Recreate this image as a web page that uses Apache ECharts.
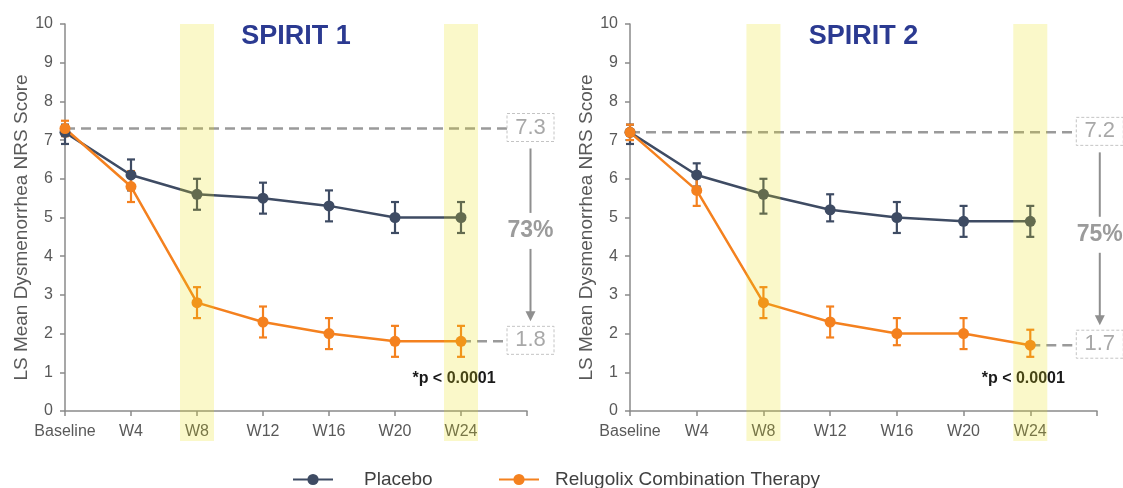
<!DOCTYPE html>
<html>
<head>
<meta charset="utf-8">
<script src="https://cdn.jsdelivr.net/npm/echarts@6/dist/echarts.min.js"></script>
<style>
  html, body { margin: 0; padding: 0; background: #fff; }
  #chart { width: 1123px; height: 488px; }
</style>
</head>
<body>
<div id="chart"></div>
<script>
// x categories (index 7 is the empty end of the axis)
var weeks = ['Baseline', 'W4', 'W8', 'W12', 'W16', 'W20', 'W24'];
var yTicks = [0, 10];

// SPIRIT 1
var placeboS1 = [7.2, 6.1, 5.6, 5.5, 5.3, 5.0, 5.0];
var placeboS1Lo = [6.9, 5.7, 5.2, 5.1, 4.9, 4.6, 4.6];
var placeboS1Hi = [7.4, 6.5, 6.0, 5.9, 5.7, 5.4, 5.4];
var reluS1 = [7.3, 5.8, 2.8, 2.3, 2.0, 1.8, 1.8];
var reluS1Lo = [7.1, 5.4, 2.4, 1.9, 1.6, 1.4, 1.4];
var reluS1Hi = [7.5, 6.2, 3.2, 2.7, 2.4, 2.2, 2.2];

// SPIRIT 2
var placeboS2 = [7.2, 6.1, 5.6, 5.2, 5.0, 4.9, 4.9];
var placeboS2Lo = [6.9, 5.8, 5.1, 4.9, 4.6, 4.5, 4.5];
var placeboS2Hi = [7.4, 6.4, 6.0, 5.6, 5.4, 5.3, 5.3];
var reluS2 = [7.2, 5.7, 2.8, 2.3, 2.0, 2.0, 1.7];
var reluS2Lo = [7.0, 5.3, 2.4, 1.9, 1.7, 1.6, 1.4];
var reluS2Hi = [7.4, 6.1, 3.2, 2.7, 2.4, 2.4, 2.1];

var panelTitles = ['SPIRIT 1', 'SPIRIT 2'];
var reductions = ['73%', '75%'];
var highlighted = [2, 6]; // W8 and W24
var seriesNames = ['Placebo', 'Relugolix Combination Therapy'];

var PLACEBO = '#3e4b63';
var RELU = '#f4811f';
var AXIS = '#8a8a8a';
var FONT = 'Liberation Sans, Arial, sans-serif';

var chart = echarts.init(document.getElementById('chart'));

function pts(arr) {
  return arr.map(function (v, i) { return [i, v]; });
}
function bars(lo, hi) {
  return lo.map(function (v, i) { return [i, v, hi[i]]; });
}

function errorSeries(idx, lo, hi, color) {
  return {
    type: 'custom',
    xAxisIndex: idx,
    yAxisIndex: idx,
    z: 3,
    silent: true,
    encode: { x: 0, y: [1, 2] },
    data: bars(lo, hi),
    renderItem: function (params, api) {
      var top = api.coord([api.value(0), api.value(2)]);
      var bot = api.coord([api.value(0), api.value(1)]);
      var c = 4;
      var st = { stroke: color, lineWidth: 2.2 };
      return {
        type: 'group',
        children: [
          { type: 'line', shape: { x1: top[0], y1: top[1], x2: bot[0], y2: bot[1] }, style: st },
          { type: 'line', shape: { x1: top[0] - c, y1: top[1], x2: top[0] + c, y2: top[1] }, style: st },
          { type: 'line', shape: { x1: bot[0] - c, y1: bot[1], x2: bot[0] + c, y2: bot[1] }, style: st }
        ]
      };
    }
  };
}

function lineSeries(idx, name, data, color) {
  return {
    type: 'line',
    name: name,
    xAxisIndex: idx,
    yAxisIndex: idx,
    data: pts(data),
    symbol: 'circle',
    symbolSize: 11,
    z: 4,
    lineStyle: { color: color, width: 2.5 },
    itemStyle: { color: color },
    emphasis: { disabled: true }
  };
}

function xAxis(idx) {
  return {
    type: 'value',
    gridIndex: idx,
    min: 0,
    max: 7,
    interval: 1,
    axisLine: { lineStyle: { color: AXIS, width: 1.5 } },
    axisTick: { length: 5, lineStyle: { color: AXIS, width: 1.5 } },
    splitLine: { show: false },
    axisLabel: {
      color: '#595959',
      fontSize: 16,
      fontFamily: FONT,
      margin: 13,
      showMaxLabel: true,
      formatter: function (v) { return weeks[v] || ''; }
    }
  };
}

function yAxis(idx) {
  return {
    type: 'value',
    gridIndex: idx,
    min: yTicks[0],
    max: yTicks[1],
    interval: 1,
    axisLine: { show: true, lineStyle: { color: AXIS, width: 1.5 } },
    axisTick: { show: true, length: 5, lineStyle: { color: AXIS, width: 1.5 } },
    splitLine: { show: false },
    axisLabel: { color: '#595959', fontSize: 16, fontFamily: FONT, margin: 12 }
  };
}

var option = {
  backgroundColor: '#fff',
  animation: false,
  grid: [
    { left: 65, right: 596, top: 24, bottom: 77 },
    { left: 630, right: 26, top: 24, bottom: 77 }
  ],
  xAxis: [xAxis(0), xAxis(1)],
  yAxis: [yAxis(0), yAxis(1)],
  legend: [
    {
      data: [seriesNames[0]],
      left: 292, top: 470, padding: 0,
      itemWidth: 40, itemHeight: 14,
      textStyle: { fontSize: 19, color: '#404040', fontFamily: FONT, padding: [0, 0, 0, 26] }
    },
    {
      data: [seriesNames[1]],
      left: 498, top: 470, padding: 0,
      itemWidth: 40, itemHeight: 14,
      textStyle: { fontSize: 19, color: '#404040', fontFamily: FONT, padding: [0, 0, 0, 11] }
    }
  ],
  series: [
    lineSeries(0, seriesNames[0], placeboS1, PLACEBO),
    lineSeries(0, seriesNames[1], reluS1, RELU),
    errorSeries(0, placeboS1Lo, placeboS1Hi, PLACEBO),
    errorSeries(0, reluS1Lo, reluS1Hi, RELU),
    lineSeries(1, seriesNames[0], placeboS2, PLACEBO),
    lineSeries(1, seriesNames[1], reluS2, RELU),
    errorSeries(1, placeboS2Lo, placeboS2Hi, PLACEBO),
    errorSeries(1, reluS2Lo, reluS2Hi, RELU)
  ]
};
chart.setOption(option);

// annotations placed from axis coordinates
var relu = [reluS1, reluS2];
var graphics = [];
function px(gi, x, y) { return chart.convertToPixel({ gridIndex: gi }, [x, y]); }

[0, 1].forEach(function (gi) {
  var base = relu[gi][0], end = relu[gi][6];
  var pBase = px(gi, 0, base);
  var pEnd = px(gi, 6, end);
  var yZero = px(gi, 0, 0)[1];
  var yTen = px(gi, 0, 10)[1];
  var xRight = px(gi, 7, 0)[0];
  var boxL = pEnd[0] + 46, boxW = 47, boxH = 28;
  var cx = boxL + boxW / 2;
  var mid = (pBase[1] + pEnd[1]) / 2;
  var dash = { stroke: '#9a9a9a', lineWidth: 2.5, lineDash: [10, 6] };
  var boxSt = { fill: '#fff', stroke: '#c4c4c4', lineWidth: 1, lineDash: [3, 2] };
  var grey = '#8f8f8f';

  // panel title
  graphics.push({
    type: 'text', x: (pBase[0] + xRight) / 2, y: 37,
    style: { text: panelTitles[gi], fill: '#2b3a91', font: 'bold 27px ' + FONT, align: 'center', verticalAlign: 'middle' }
  });
  // y axis title
  graphics.push({
    type: 'text', x: pBase[0] - 43, y: (yTen + yZero) / 2 + 10, rotation: Math.PI / 2,
    style: { text: 'LS Mean Dysmenorrhea NRS Score', fill: '#595959', font: '19px ' + FONT, align: 'center', verticalAlign: 'middle' }
  });
  // dashed reference lines
  graphics.push({ type: 'line', shape: { x1: pBase[0], y1: pBase[1], x2: boxL, y2: pBase[1] }, style: dash });
  graphics.push({ type: 'line', shape: { x1: pEnd[0], y1: pEnd[1], x2: boxL, y2: pEnd[1] }, style: dash });
  // value boxes
  [[base, pBase[1]], [end, pEnd[1]]].forEach(function (b) {
    graphics.push({ type: 'rect', shape: { x: boxL, y: b[1] - boxH / 2 - 1, width: boxW, height: boxH }, style: boxSt });
    graphics.push({
      type: 'text', x: cx, y: b[1] - 1,
      style: { text: b[0].toFixed(1), fill: '#a8a8a8', font: '22px ' + FONT, align: 'center', verticalAlign: 'middle' }
    });
  });
  // arrow with reduction label
  graphics.push({ type: 'line', shape: { x1: cx, y1: pBase[1] + 20, x2: cx, y2: mid - 22 }, style: { stroke: grey, lineWidth: 2 } });
  graphics.push({ type: 'line', shape: { x1: cx, y1: mid + 14, x2: cx, y2: pEnd[1] - 28 }, style: { stroke: grey, lineWidth: 2 } });
  graphics.push({
    type: 'polygon',
    shape: { points: [[cx - 5, pEnd[1] - 30], [cx + 5, pEnd[1] - 30], [cx, pEnd[1] - 20]] },
    style: { fill: grey }
  });
  graphics.push({
    type: 'text', x: cx, y: mid - 4,
    style: { text: reductions[gi], fill: '#9b9b9b', font: 'bold 23px ' + FONT, align: 'center', verticalAlign: 'middle' }
  });
  // p value
  graphics.push({
    type: 'text', x: pEnd[0] - 7, y: yZero - 32,
    style: { text: '*p < 0.0001', fill: '#1a1a1a', font: 'bold 16px ' + FONT, align: 'center', verticalAlign: 'middle' }
  });
  // highlight bands over W8 and W24
  highlighted.forEach(function (h) {
    var x = px(gi, h, 0)[0];
    graphics.push({
      type: 'rect', z: 100, silent: true,
      shape: { x: x - 17, y: yTen, width: 34, height: yZero - yTen + 30 },
      style: { fill: 'rgba(232,222,10,0.22)' }
    });
  });
});

chart.setOption({ graphic: graphics });
</script>
</body>
</html>
